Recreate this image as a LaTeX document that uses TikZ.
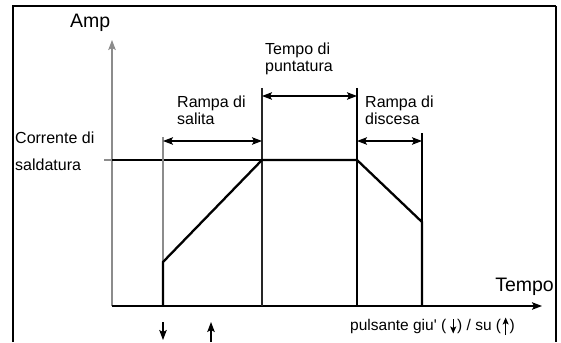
\documentclass[tikz,border=0pt]{standalone}
\usepackage{fontspec}
\setmainfont{Liberation Sans}[Ligatures=TeXOff]
\usetikzlibrary{arrows.meta}
\newcommand{\txtdn}{\tikz[baseline=0pt,x=1pt,y=1pt]\draw[line width=1.1pt,-{Stealth[length=7pt,width=6pt,inset=1.5pt]}] (0,11) -- (0,-3.5);}
\newcommand{\txtup}{\tikz[baseline=0pt,x=1pt,y=1pt]\draw[line width=1.1pt,-{Stealth[length=7pt,width=6pt,inset=1.5pt]}] (0,-5) -- (0,12.5);}
\begin{document}
\begin{tikzpicture}[x=1pt,y=-1pt,
  lbl/.style={font=\fontsize{16}{18}\selectfont, inner sep=0pt, anchor=base west},
  big/.style={font=\fontsize{19.5}{22}\selectfont, inner sep=0pt},
  small/.style={font=\fontsize{15.5}{17}\selectfont, inner sep=0pt, anchor=base west},
  frm/.style={line width=2.2pt},
  axisg/.style={draw=gray!90, line width=1.2pt},
  thinb/.style={line width=1.2pt},
  curve/.style={line width=2.3pt, line join=miter},
  tip/.style={-{Stealth[length=10pt,width=7.5pt,inset=2pt]}},
  dim/.style={line width=1.2pt, {Stealth[length=10pt,width=7.5pt,inset=2pt]}-{Stealth[length=10pt,width=7.5pt,inset=2pt]}}]
\useasboundingbox (0,0) rectangle (561,342);
% frame
\coordinate (fbl) at (13,342);
\coordinate (ftl) at (13,6);
\coordinate (ftr) at (556,6);
\coordinate (fbr) at (556,342);
\draw[frm] (fbl) -- (ftl) -- (ftr);
\draw[line width=1.5pt] (ftr) -- (fbr);
% axes
\coordinate (O) at (112,306);
\coordinate (ytop) at (112,40);
\coordinate (xend) at (542,306);
\draw[axisg, tip] (O) -- (ytop);
\draw[line width=1.5pt, tip] (O) -- (xend);
% key points
\coordinate (a0) at (163,306);
\coordinate (a1) at (163,262);
\coordinate (b1) at (262,160);
\coordinate (c1) at (357,160);
\coordinate (d1) at (422,222);
\coordinate (d0) at (422,306);
\coordinate (b0) at (262,306);
\coordinate (c0) at (357,306);
\coordinate (atop) at (163,137);
\coordinate (btop) at (262,88);
\coordinate (ctop) at (357,88);
\coordinate (dtop) at (422,133);
\coordinate (tickl) at (104,160);
\coordinate (ticky) at (112,160);
% guide lines
\draw[axisg] (tickl) -- (ticky);
\draw[thinb] (ticky) -- (b1);
\draw[draw=gray!90, line width=1.1pt] (atop) -- (a1);
\draw[draw=black!85, thinb] (btop) -- (b0);
\draw[thinb] (ctop) -- (c0);
\draw[line width=1.5pt] (dtop) -- (d1);
% current curve
\draw[curve] (a0) -- (a1) -- (b1) -- (c1) -- (d1) -- (d0);
% dimension arrows
\draw[dim] (163,141) -- (262,141);
\draw[dim] (262,96) -- (357,96);
\draw[dim] (357,141) -- (422,141);
% button arrows
\coordinate (dn1) at (163,322);
\coordinate (dn2) at (163,340);
\coordinate (up1) at (211,342);
\coordinate (up2) at (211,322);
\draw[line width=1.2pt, tip] (dn1) -- (dn2);
\draw[line width=1.2pt, tip] (up1) -- (up2);
% labels
\node[big, anchor=base west] (amp) at (70,28) {Amp};
\node[big, anchor=base east] (tempo) at (554,291) {Tempo};
\node[lbl] (corr1) at (15,143) {Corrente di};
\node[lbl] (corr2) at (15,170) {saldatura};
\node[lbl] (sal1) at (177,107) {Rampa di};
\node[lbl] (sal2) at (177,124) {salita};
\node[lbl] (pun1) at (265,55) {Tempo di};
\node[lbl] (pun2) at (265,72) {puntatura};
\node[lbl] (dis1) at (365,107) {Rampa di};
\node[lbl] (dis2) at (365,124) {discesa};
\node[small] (puls) at (350,330) {pulsante giu' (\hspace{4pt}\txtdn\hspace{1pt}) / su (\hspace{1.5pt}\txtup\hspace{1pt})};
\end{tikzpicture}
\end{document}
